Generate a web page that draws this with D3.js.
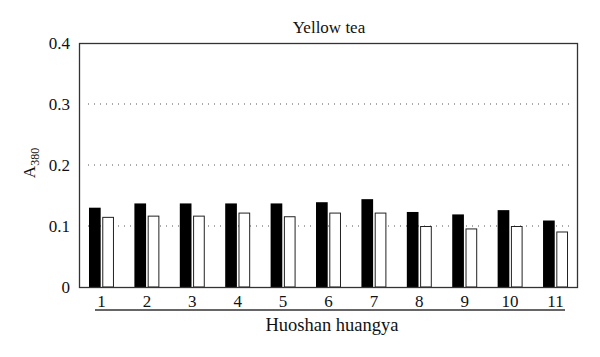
<!DOCTYPE html>
<html><head><meta charset="utf-8">
<script src="https://cdn.jsdelivr.net/npm/d3@7"></script>
<style>body{margin:0;background:#fff}svg{display:block}</style>
</head><body>
<script>
const categories = ["1","2","3","4","5","6","7","8","9","10","11"];
const seriesA = [0.130,0.137,0.137,0.137,0.137,0.139,0.144,0.123,0.119,0.126,0.109];
const seriesB = [0.115,0.117,0.117,0.122,0.116,0.122,0.122,0.100,0.096,0.100,0.091];
const yTicks = [0,0.1,0.2,0.3,0.4];
const title = "Yellow tea";
const xTitle = "Huoshan huangya";

const W=600,H=357;
const m={left:79,top:43,right:22,bottom:70};
const svg=d3.select("body").append("svg").attr("width",W).attr("height",H);
const font="'Liberation Serif', 'DejaVu Serif', serif";
const x=d3.scaleBand().domain(categories).range([m.left,W-m.right]).paddingInner(0.45).paddingOuter(0.22);
const x1=d3.scaleBand().domain(["a","b"]).range([0,x.bandwidth()]).paddingInner(0.12);
const y=d3.scaleLinear().domain([0,0.4]).range([H-m.bottom,m.top]);

// gridlines
svg.append("g").selectAll("line").data(yTicks.filter(d=>d>0&&d<0.4)).join("line")
 .attr("x1",m.left+9).attr("x2",W-m.right-6)
 .attr("y1",d=>y(d)).attr("y2",d=>y(d))
 .attr("stroke","#555").attr("stroke-width",1).attr("stroke-dasharray","1,5");

const g=svg.append("g").selectAll("g").data(categories).join("g")
 .attr("transform",d=>`translate(${x(d)},0)`);
g.append("rect").attr("x",x1("a")).attr("width",x1.bandwidth())
 .attr("y",(d,i)=>y(seriesA[i])).attr("height",(d,i)=>y(0)-y(seriesA[i]))
 .attr("fill","#000");
g.append("rect").attr("x",x1("b")+0.5).attr("width",x1.bandwidth()-1)
 .attr("y",(d,i)=>y(seriesB[i])+0.5).attr("height",(d,i)=>y(0)-y(seriesB[i])-0.5)
 .attr("fill","#fff").attr("stroke","#222").attr("stroke-width",1);

// frame
svg.append("rect").attr("x",m.left+0.5).attr("y",m.top+0.5)
 .attr("width",W-m.right-m.left-1).attr("height",H-m.bottom-m.top)
 .attr("fill","none").attr("stroke","#333").attr("stroke-width",1.3);

// y axis
const ya=svg.append("g").attr("transform",`translate(${m.left},0)`)
 .call(d3.axisLeft(y).tickValues(yTicks).tickSize(0).tickPadding(9).tickFormat(d=>d===0?"0":d3.format(".1f")(d)));
ya.select(".domain").remove();
ya.selectAll("text").attr("font-family",font).attr("font-size",17).attr("fill","#111");

// x axis labels
const xa=svg.append("g").attr("transform",`translate(0,${H-m.bottom})`)
 .call(d3.axisBottom(x).tickSize(0).tickPadding(8));
xa.select(".domain").remove();
xa.selectAll("text").attr("font-family",font).attr("font-size",17).attr("fill","#111");

// underline
svg.append("line").attr("x1",x(categories[0])+6).attr("x2",x(categories[categories.length-1])+x.bandwidth()-3)
 .attr("y1",310).attr("y2",310).attr("stroke","#333").attr("stroke-width",1.3);

svg.append("text").attr("x",332).attr("y",331).attr("text-anchor","middle")
 .attr("font-family",font).attr("font-size",18.5).attr("fill","#111").text(xTitle);
svg.append("text").attr("x",329).attr("y",33).attr("text-anchor","middle")
 .attr("font-family",font).attr("font-size",17).attr("fill","#111").text(title);

const yl=svg.append("text").attr("transform","translate(35,163) rotate(-90)").attr("text-anchor","middle")
 .attr("font-family",font).attr("font-size",17).attr("fill","#111");
yl.append("tspan").text("A");
yl.append("tspan").attr("font-size",12).attr("dy",4).text("380");
</script>
</body></html>
